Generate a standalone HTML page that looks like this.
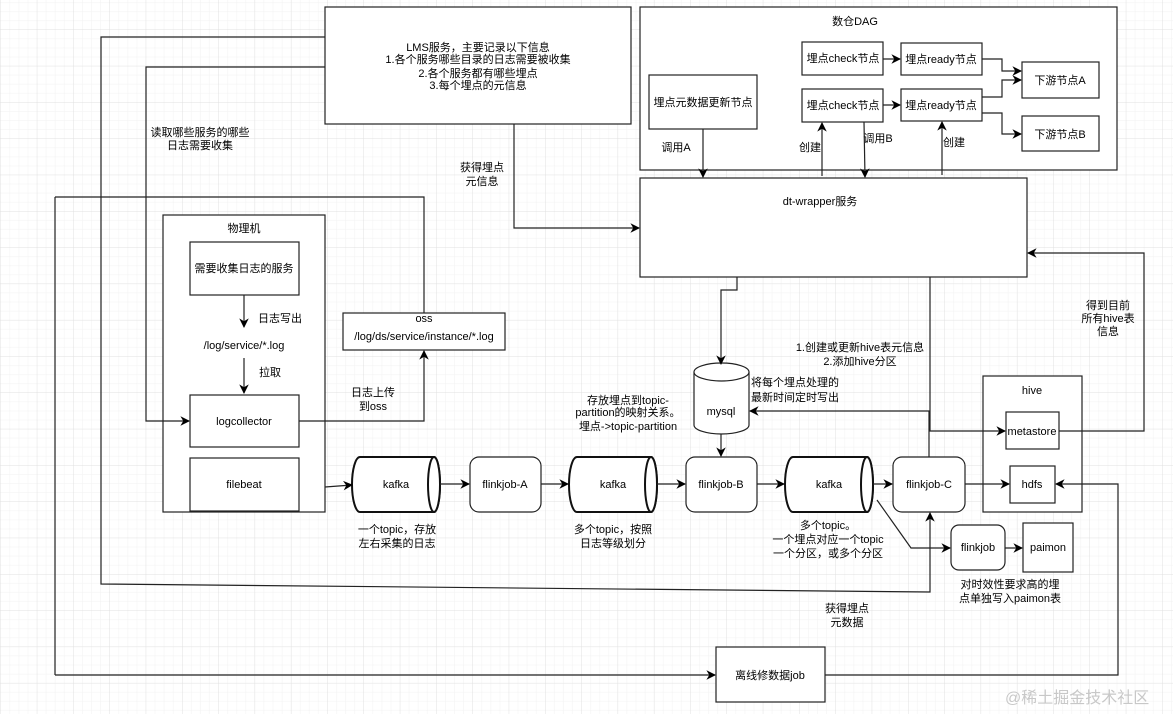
<!DOCTYPE html>
<html><head><meta charset="utf-8"><style>
html,body{margin:0;padding:0;background:#fff}
svg{display:block}
text{font-family:"Liberation Sans","Noto Sans CJK SC",sans-serif;font-size:11px;fill:#000}
</style></head><body>
<svg width="1173" height="714" viewBox="0 0 1173 714" xmlns="http://www.w3.org/2000/svg">
<defs>
<pattern id="gs" width="9.07" height="9.07" patternUnits="userSpaceOnUse"><path d="M9.07 0V9.07H0" fill="none" stroke="#f1f1f1" stroke-width="1"/></pattern>
<pattern id="gb" width="36.3" height="36.3" patternUnits="userSpaceOnUse" x="1" y="30"><rect width="36.3" height="36.3" fill="url(#gs)"/><path d="M36.3 0V36.3H0" fill="none" stroke="#e0e0e0" stroke-width="1"/></pattern>
<marker id="a" viewBox="0 0 10 10" refX="9" refY="5" markerWidth="8" markerHeight="8" orient="auto"><path d="M0 0L10 5L0 10L3 5Z" fill="#000"/></marker>
</defs>
<rect width="1173" height="714" fill="url(#gb)"/>
<g fill="#fff" stroke="#222" stroke-width="1.2">
<rect x="325" y="7" width="306" height="117"/>
<rect x="640" y="7" width="477" height="163"/>
<rect x="649" y="75" width="108" height="54"/>
<rect x="802" y="42" width="81" height="33"/>
<rect x="901" y="43" width="81" height="32"/>
<rect x="802" y="89" width="81" height="33"/>
<rect x="901" y="89" width="81" height="32"/>
<rect x="1022" y="62" width="77" height="36"/>
<rect x="1022" y="116" width="77" height="35"/>
<rect x="640" y="178" width="387" height="99"/>
<rect x="163" y="215" width="162" height="297"/>
<rect x="190" y="242" width="109" height="53"/>
<rect x="190" y="395" width="109" height="52"/>
<rect x="190" y="458" width="109" height="53"/>
<rect x="343" y="313" width="162" height="37"/>
<rect x="983" y="376" width="99" height="136"/>
<rect x="1006" y="412" width="53" height="37"/>
<rect x="1010" y="466" width="45" height="37"/>
<rect x="470" y="457" width="71" height="55" rx="9"/>
<rect x="686" y="457" width="71" height="55" rx="9"/>
<rect x="893" y="457" width="72" height="55" rx="9"/>
<rect x="951" y="525" width="54" height="45" rx="8"/>
<rect x="1023" y="523" width="50" height="49"/>
<rect x="716" y="647" width="109" height="55"/>
</g>
<g fill="#fff" stroke="#222" stroke-width="1.2">
<path d="M694 372V425A27.5 9 0 0 0 749 425V372"/>
<ellipse cx="721.5" cy="372" rx="27.5" ry="9"/>
</g>
<g fill="#fff" stroke="#111" stroke-width="2">
<path d="M360 457H434A6 27.5 0 0 1 434 512H360A8 27.5 0 0 1 360 457Z"/><ellipse cx="434" cy="484.5" rx="6" ry="27.5"/>
<path d="M577 457H651A6 27.5 0 0 1 651 512H577A8 27.5 0 0 1 577 457Z"/><ellipse cx="651" cy="484.5" rx="6" ry="27.5"/>
<path d="M793 457H867A6 27.5 0 0 1 867 512H793A8 27.5 0 0 1 793 457Z"/><ellipse cx="867" cy="484.5" rx="6" ry="27.5"/>
</g>
<g fill="none" stroke="#222" stroke-width="1.2">
<path d="M55 197H424V313"/>
<path d="M55 197V675"/>
</g>
<g fill="none" stroke="#222" stroke-width="1.2" marker-end="url(#a)">
<path d="M325 37H101V584L930 592V513"/>
<path d="M325 67H146V421H189"/>
<path d="M514 124V228H639"/>
<path d="M299 421H424V351"/>
<path d="M55 675H715"/>
<path d="M244 295V327"/>
<path d="M244 358V393"/>
<path d="M883 59H900"/>
<path d="M883 105H900"/>
<path d="M982 59H1002V71H1021"/>
<path d="M982 97H1002V80H1021"/>
<path d="M982 113H1002V134H1021"/>
<path d="M703 129V177"/>
<path d="M822 176V123"/>
<path d="M864 122L865 177"/>
<path d="M942 175V122"/>
<path d="M1059 431H1144V253H1028"/>
<path d="M737 277V290H721V364"/>
<path d="M930 277V431H1005"/>
<path d="M929 457V411H750"/>
<path d="M721 434V456"/>
<path d="M325 487L352 485"/>
<path d="M440 484H469"/>
<path d="M541 484H568"/>
<path d="M657 484H685"/>
<path d="M757 484H784"/>
<path d="M873 484H892"/>
<path d="M965 484H1009"/>
<path d="M877 500L911 548H950"/>
<path d="M1005 548H1022"/>
<path d="M825 675H1118V484H1056"/>
</g>
<g text-anchor="middle">
<text x="478" y="51">LMS服务，主要记录以下信息</text>
<text x="478" y="63">1.各个服务哪些目录的日志需要被收集</text>
<text x="478" y="77">2.各个服务都有哪些埋点</text>
<text x="478" y="89">3.每个埋点的元信息</text>
<text x="200" y="136">读取哪些服务的哪些</text>
<text x="200" y="149">日志需要收集</text>
<text x="482" y="171">获得埋点</text>
<text x="482" y="185">元信息</text>
<text x="855" y="25">数仓DAG</text>
<text x="843" y="62">埋点check节点</text>
<text x="941" y="63">埋点ready节点</text>
<text x="843" y="109">埋点check节点</text>
<text x="941" y="109">埋点ready节点</text>
<text x="1060" y="84">下游节点A</text>
<text x="1060" y="138">下游节点B</text>
<text x="703" y="106">埋点元数据更新节点</text>
<text x="676" y="151">调用A</text>
<text x="810" y="151">创建</text>
<text x="878" y="142">调用B</text>
<text x="954" y="146">创建</text>
<text x="820" y="205">dt-wrapper服务</text>
<text x="244" y="232">物理机</text>
<text x="244" y="272">需要收集日志的服务</text>
<text x="280" y="322">日志写出</text>
<text x="244" y="349">/log/service/*.log</text>
<text x="270" y="376">拉取</text>
<text x="244" y="425">logcollector</text>
<text x="244" y="488">filebeat</text>
<text x="424" y="322">oss</text>
<text x="424" y="340">/log/ds/service/instance/*.log</text>
<text x="373" y="396">日志上传</text>
<text x="373" y="410">到oss</text>
<text x="860" y="351">1.创建或更新hive表元信息</text>
<text x="860" y="365">2.添加hive分区</text>
<text x="1108" y="309">得到目前</text>
<text x="1108" y="322">所有hive表</text>
<text x="1108" y="335">信息</text>
<text x="721" y="415">mysql</text>
<text x="628" y="404">存放埋点到topic-</text>
<text x="628" y="416">partition的映射关系。</text>
<text x="628" y="430">埋点-&gt;topic-partition</text>
<text x="1032" y="394">hive</text>
<text x="1032" y="435">metastore</text>
<text x="1032" y="488">hdfs</text>
<text x="396" y="488">kafka</text>
<text x="613" y="488">kafka</text>
<text x="829" y="488">kafka</text>
<text x="505" y="488">flinkjob-A</text>
<text x="721" y="488">flinkjob-B</text>
<text x="929" y="488">flinkjob-C</text>
<text x="978" y="551">flinkjob</text>
<text x="1048" y="551">paimon</text>
<text x="397" y="533">一个topic，存放</text>
<text x="397" y="547">左右采集的日志</text>
<text x="613" y="533">多个topic，按照</text>
<text x="613" y="547">日志等级划分</text>
<text x="828" y="529">多个topic。</text>
<text x="828" y="543">一个埋点对应一个topic</text>
<text x="828" y="557">一个分区，或多个分区</text>
<text x="1010" y="588">对时效性要求高的埋</text>
<text x="1010" y="602">点单独写入paimon表</text>
<text x="847" y="612">获得埋点</text>
<text x="847" y="626">元数据</text>
<text x="770" y="679">离线修数据job</text>
</g>
<text x="751" y="386">将每个埋点处理的</text>
<text x="751" y="401">最新时间定时写出</text>
<text x="1005" y="703" style="font-size:16px;fill:#c8c8c8">@稀土掘金技术社区</text>
</svg>
</body></html>
